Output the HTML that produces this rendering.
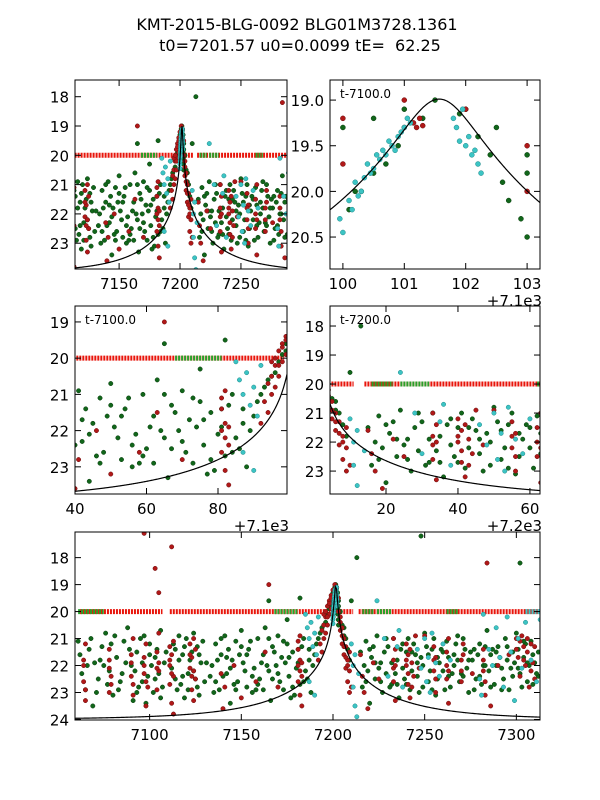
<!DOCTYPE html>
<html><head><meta charset="utf-8"><style>
body{margin:0;background:#fff}
svg{display:block;font-family:"DejaVu Sans","Liberation Sans",sans-serif}
</style></head><body>
<svg id="fig" width="600" height="800" viewBox="0 0 600 800">
<text x="297" y="30" text-anchor="middle" font-size="16">KMT-2015-BLG-0092 BLG01M3728.1361</text>
<text x="300" y="51" text-anchor="middle" font-size="16" xml:space="preserve" style="white-space:pre">t0=7201.57 u0=0.0099 tE=&#160; 62.25</text>
</svg>
<script>
// model parameters
const t0=7201.57, u0=0.0099, tE=62.25, baseMag=24.0;
// green series [t, mag]
const greenPts=[[7062,21.6],[7065,22.9],[7068,21.0],[7070,21.9],[7072,22.5],[7074,21.3],[7076,20.8],[7078,22.2],[7080,23.1],[7082,21.7],[7084,22.6],[7086,21.1],[7088,20.6],[7090,22.0],[7091,23.3],[7093,21.5],[7094,22.8],[7096,21.9],[7097,20.9],[7099,22.4],[7100,21.2],[7102,23.0],[7103,21.7],[7105,22.3],[7106,20.7],[7108,21.9],
[7112,22.1],[7114,21.4],[7116,20.9],[7117,22.7],[7118,21.6],[7119,23.2],[7120,21.0],[7121,22.3],[7122,21.8],[7124,20.8],[7125,22.5],[7126,21.3],[7127,23.1],[7128,21.9],[7130,22.6],
[7134,22.0],[7136,21.2],[7138,22.9],[7139,21.6],[7141,20.9],[7142,22.3],[7144,23.4],[7145,21.8],[7147,21.1],[7148,22.6],[7150,20.7],[7151,21.9],[7153,22.8],[7154,21.4],[7156,23.0],[7157,22.1],[7159,21.0],[7160,22.5],[7162,21.6],[7163,20.6],[7165,22.2],[7166,23.3],[7167,21.3],[7169,22.0],[7170,20.9],[7172,21.7],[7173,22.9],[7175,21.2],[7176,22.4],[7178,21.5],[7179,23.1],[7181,21.9],[7182,22.7],[7184,21.0],[7185,22.2],[7187,21.4],[7188,23.0],
[7190,21.6],[7192,21.0],[7194,20.6],[7196,20.4],[7197,20.1],[7198,19.9],[7199,19.6],[7200,19.3],[7200.5,19.2],[7201,19.1],[7201.5,19.0],[7202,19.1],[7202.5,19.3],[7203,19.6],[7204,20.0],[7205,20.5],[7206,20.9],[7208,21.4],
[7165,19.6],[7182,19.5],[7210,19.6],[7213,18.0],[7248,17.2],[7302,18.2],[7175,20.3],
[7215,21.5],[7216,22.8],[7218,21.1],[7219,22.2],[7220,23.4],[7221,21.7],[7223,22.5],[7224,20.9],[7226,21.9],[7227,23.0],[7229,22.3],[7230,21.3],[7232,22.7],[7233,21.0],[7235,21.8],[7236,23.2],[7238,22.1],[7240,21.5],[7242,22.9],[7244,21.2],[7246,22.4],[7248,21.7],[7250,20.8],[7252,22.6],[7254,21.4],[7256,23.1],[7258,21.9],[7260,22.2],[7262,21.1],[7264,22.8],[7266,21.6],[7268,20.9],[7270,22.3],[7272,21.4],[7274,23.0],[7276,21.8],[7278,22.5],[7280,21.2],[7282,22.0],[7284,20.7],[7286,21.6],[7288,22.7],[7290,21.3],[7292,22.1],[7294,21.0],[7296,22.9],[7298,21.5],[7300,20.8],[7302,22.3],[7304,21.7],[7306,22.6],[7308,21.1],[7310,21.9],[7312,22.4],
[7063,22.3],[7067,21.4],[7071,23.0],[7075,22.0],[7079,21.2],[7083,22.9],[7087,21.9],[7092,22.2],[7095,21.0],[7098,23.4],[7101,22.0],[7104,21.4],[7107,22.8],[7113,21.2],[7115,22.9],[7118,22.4],[7123,21.5],[7126,22.8],[7129,21.1],[7135,23.0],[7137,21.8],[7140,22.4],[7143,21.4],[7146,22.7],[7149,21.6],[7152,22.2],[7155,21.1],[7158,22.9],[7161,21.9],[7164,22.0],[7168,21.5],[7171,22.6],[7174,21.9],[7177,23.2],[7180,22.1],[7183,21.3],[7186,22.5],[7189,22.0],[7217,22.0],[7222,21.3],[7225,22.1],[7228,21.5],[7231,22.8],[7234,22.3],[7237,21.4],[7239,22.5],[7241,21.0],[7243,22.2],[7245,21.6],[7247,23.0],[7249,22.0],[7251,21.3],[7253,22.2],[7255,21.0],[7257,22.5],[7259,21.4],[7261,22.9],[7263,21.7],[7265,22.3],[7267,21.2],[7269,22.6],[7271,21.0],[7273,22.1],[7275,21.5],[7277,22.9],[7279,21.6],[7281,22.7],[7283,21.3],[7285,22.2],[7287,21.4],[7289,22.0],[7291,21.7],[7293,22.5],[7295,21.3],[7297,22.1],[7299,21.9],[7301,21.4],[7303,22.8],[7305,21.2],[7307,22.0],[7309,21.6],[7311,22.3],
[7061,21.1],[7066,22.0],[7069,23.5],[7073,21.8],[7077,22.7],[7081,20.9],[7085,22.3],[7089,21.4],[7093,23.0],[7096,22.6],[7100,21.6],[7103,22.5],[7106,23.2],[7109,21.5],[7114,22.5],[7116,21.8],[7119,21.3],[7121,22.9],[7124,22.2],[7127,21.6],[7131,21.9],[7133,22.4],[7136,22.6],[7139,21.0],[7142,21.7],[7144,22.1],[7147,22.9],[7150,21.3],[7153,21.6],[7156,22.4],[7159,22.7],[7162,22.9],[7165,21.0],[7167,22.5],[7170,22.3],[7173,21.1],[7176,21.7],[7178,22.8],[7181,21.4],[7184,22.6],[7187,21.8],[7191,21.2],[7193,20.8],[7195,20.5],[7199,19.8],[7203,19.8],[7206,20.6],[7207,21.0],[7209,21.8],[7218,22.6],[7220,21.4],[7223,21.9],[7226,22.6],[7229,21.0],[7232,21.9],[7235,22.7],[7238,21.2],[7240,22.7],[7243,21.5],[7246,21.9],[7249,22.8],[7252,21.6],[7254,22.9],[7257,21.7],[7260,21.5],[7263,22.4],[7266,22.0],[7268,21.8],[7271,22.4],[7274,21.8],[7277,21.4],[7280,22.4],[7283,22.0],[7286,22.8],[7289,21.5],[7292,22.9],[7295,21.8],[7298,22.4],[7301,22.1],[7304,21.1],[7306,21.9],[7309,22.7],[7312,21.5],
[7200.1,20.2],[7200.3,20.0],[7200.5,19.8],[7200.7,19.7],[7200.9,19.5],[7201.3,19.2],[7201.9,19.15],[7202.2,19.4],[7202.4,19.6],[7202.6,19.9],[7202.7,20.1],[7202.9,20.3],[7203.0,20.5],[7200.2,20.0]];
// red series [t, mag]
const redPts=[[7064,21.8],[7064,22.6],[7065,21.2],[7065,23.3],[7078,22.1],[7078,21.4],[7078,23.0],[7079,22.7],[7090,21.6],[7090,22.4],[7091,21.0],[7091,23.1],[7097,21.7],[7097,22.3],[7098,21.2],[7098,23.5],[7099,22.8],[7104,21.5],[7104,22.9],[7105,20.8],[7105,22.2],[7105,19.3],[7103,18.4],[7097,17.1],[7111,21.3],[7111,22.0],[7111,22.7],[7112,21.6],[7112,23.4],[7112,17.6],[7113,22.4],[7113,23.8],[7122,21.2],[7122,22.1],[7123,21.7],[7123,22.9],[7124,21.0],[7124,23.3],[7125,22.5],[7139,22.3],[7140,23.6],[7141,22.8],[7146,22.0],[7150,23.2],[7158,22.6],[7163,21.5],[7165,19.0],[7170,22.8],[7181,21.4],[7181,22.0],[7181,22.6],[7182,23.1],[7182,21.8],[7183,22.4],[7183,23.5],[7182,20.9],
[7192,21.8],[7193,21.2],[7194,20.7],[7195,20.5],[7195,21.0],[7196,20.2],[7196,20.8],[7197,19.8],[7197,20.5],[7198,19.6],[7198,20.1],[7199,19.4],[7199,19.9],[7200,19.2],[7200,19.7],[7201,19.0],[7201,19.3],[7202,19.1],[7203,19.5],[7203,20.0],[7204,20.2],[7204,20.7],[7205,20.6],[7205,21.2],[7206,21.0],[7206,21.6],[7207,21.3],[7207,22.1],[7208,21.8],[7208,22.6],[7209,22.2],[7209,23.0],
[7215,21.6],[7216,22.4],[7217,23.0],[7222,21.9],[7225,22.5],[7233,21.0],[7233,21.8],[7233,22.6],[7234,23.3],[7234,21.4],[7240,21.2],[7240,22.0],[7241,22.7],[7241,21.6],[7242,23.2],[7243,21.9],[7244,22.4],[7245,20.9],[7247,22.1],[7255,21.3],[7255,22.2],[7256,23.0],[7256,21.7],[7262,21.5],[7262,22.5],[7263,23.4],[7263,21.0],[7270,21.8],[7270,22.6],[7271,21.2],[7276,22.3],[7282,21.4],[7282,22.2],[7283,23.1],[7284,18.2],[7290,22.0],[7296,21.6],[7300,21.0],[7301,21.7],[7302,22.4],[7303,20.9],[7304,21.3],[7305,22.0],[7306,21.5],[7307,22.8],[7308,21.2],[7309,21.9],[7310,22.5],[7286,23.5],[7250,20.9],[7219,23.6],
[7064,22.0],[7065,22.9],[7078,21.8],[7079,22.4],[7090,21.9],[7091,22.7],[7097,22.0],[7098,22.6],[7104,22.1],[7105,21.9],[7111,21.8],[7112,22.3],[7113,21.1],[7122,21.6],[7123,22.4],[7124,22.2],[7125,21.4],[7181,21.1],[7182,22.2],[7183,21.9],[7194,21.5],[7195,20.1],[7196,20.0],[7197,20.2],[7198,19.7],[7199,19.5],[7204,20.4],[7205,20.9],[7206,21.3],[7207,21.7],[7208,22.0],[7209,21.5],[7210,22.8],[7233,22.1],[7234,22.0],[7240,21.8],[7241,22.3],[7242,21.4],[7243,22.8],[7255,21.8],[7256,22.5],[7262,22.0],[7263,22.2],[7270,22.2],[7271,21.6],[7282,21.8],[7283,22.6],[7300,21.4],[7302,21.1],[7304,21.8],[7306,21.0],[7308,22.2],[7310,21.3],
[7201.15,19.25],[7201.2,19.3],[7201.25,19.2],[7201.3,19.28]];
// cyan series [t, mag]
const cyanPts=[[7185,20.1],[7186,20.6],[7187,21.0],[7188,20.4],[7189,21.3],[7190,20.8],[7191,21.6],[7192,20.2],[7187,22.6],[7190,23.1],
[7200.1,20.1],[7200.2,19.9],[7200.3,20.0],[7200.4,19.7],[7200.5,19.75],[7200.6,19.65],[7200.7,19.6],[7200.8,19.5],[7200.9,19.4],[7201.0,19.3],[7201.05,19.2],[7201.1,19.25],[7201.8,19.2],[7201.85,19.3],[7201.9,19.45],[7202.0,19.5],[7202.05,19.4],[7202.1,19.6],[7202.15,19.55],[7202.2,19.7],[7202.25,19.8],[7201.95,19.1],[7199.95,20.3],[7200.0,20.45],[7200.15,20.2],[7200.25,20.05],[7200.35,19.85],[7200.45,19.8],[7200.55,19.6],[7200.65,19.55],[7200.75,19.45],[7200.85,19.55],[7200.95,19.35],
[7210,21.2],[7211,22.0],[7211,22.8],[7212,23.5],[7212,21.6],[7213,23.9],[7214,22.3],[7224,19.6],[7228,21.0],[7230,22.4],[7235,21.3],[7236,20.7],[7238,22.8],[7246,21.4],[7248,22.1],[7250,21.0],[7251,22.6],[7252,21.7],[7253,23.0],[7254,20.8],[7256,21.9],[7258,22.4],[7260,21.2],[7264,21.8],[7280,22.5],[7281,23.1],[7282,20.1],[7285,21.4],[7287,22.0],[7289,20.6],[7291,21.7],[7293,22.8],[7295,20.2],[7297,21.5],[7299,23.3],[7301,21.0],[7303,22.1],[7305,20.4],[7308,21.8],[7311,22.6],[7313,20.3]];
// upper-limit rows at mag 20: [start, end]
const redLimitSegs=[[7062,7107],[7111,7198.5],[7204,7211],[7214,7314]];
const greenLimitSegs=[[7061,7075],[7168,7181],[7216,7222],[7224,7232],[7262,7268]];
const cyanLimitSegs=[[7305,7314]];
const limitMag=20;

const panels=[
 {name:'panel-overview-top',box:[75,80,212,189],x:[7113.8,7287.8],y:[17.43,23.88],xt:[7150,7200,7250],xl:['7150','7200','7250'],yt:[18,19,20,21,22,23],yl:['18','19','20','21','22','23'],off:0,label:null},
 {name:'panel-peak-zoom',box:[330,80,210,189],x:[7199.79,7203.21],y:[18.78,20.85],xt:[7200,7201,7202,7203],xl:['100','101','102','103'],yt:[19,19.5,20,20.5],yl:['19.0','19.5','20.0','20.5'],off:'+7.1e3',label:'t-7100.0'},
 {name:'panel-rise-zoom',box:[75,306,212,188],x:[7140,7199.3],y:[18.56,23.75],xt:[7140,7160,7180],xl:['40','60','80'],yt:[19,20,21,22,23],yl:['19','20','21','22','23'],off:'+7.1e3',label:'t-7100.0'},
 {name:'panel-decline-zoom',box:[330,306,210,188],x:[7204.44,7262.8],y:[17.31,23.79],xt:[7220,7240,7260],xl:['20','40','60'],yt:[18,19,20,21,22,23],yl:['18','19','20','21','22','23'],off:'+7.2e3',label:'t-7200.0'},
 {name:'panel-overview-bottom',box:[75,532,465,188],x:[7059.3,7312.9],y:[17.05,24.02],xt:[7100,7150,7200,7250,7300],xl:['7100','7150','7200','7250','7300'],yt:[18,19,20,21,22,23,24],yl:['18','19','20','21','22','23','24'],off:0,label:null}
];
const NS='http://www.w3.org/2000/svg';
const fig=document.getElementById('fig');
function mk(tag,attrs,parent){const e=document.createElementNS(NS,tag);for(const k in attrs)e.setAttribute(k,attrs[k]);(parent||fig).appendChild(e);return e;}
function modelMag(t){const u=Math.sqrt(u0*u0+((t-t0)/tE)**2);const A=(u*u+2)/(u*Math.sqrt(u*u+4));return baseMag-2.5*Math.log10(A);}

panels.forEach((p,pi)=>{
 const [L,T,W,H]=p.box;
 const sx=v=>L+(v-p.x[0])/(p.x[1]-p.x[0])*W;
 const sy=v=>T+(v-p.y[0])/(p.y[1]-p.y[0])*H;
 const g=mk('g',{});
 
 
 const bg=mk('rect',{x:L,y:T,width:W,height:H,fill:'#fff'},g);
 
 
 const cp=mk('clipPath',{id:'clip'+pi},g);
 mk('rect',{x:L,y:T,width:W,height:H},cp);
 const d=mk('g',{'clip-path':'url(#clip'+pi+')'},g);
 [[redLimitSegs,'#e8160c','red-limit-row'],[greenLimitSegs,'#2aa02a','green-limit-row'],[cyanLimitSegs,'#40c8c8','cyan-limit-row']].forEach(([segs,c,n])=>{
  segs.forEach(s=>{
   const ln=mk('line',{x1:sx(s[0]),x2:sx(s[1]),y1:sy(limitMag),y2:sy(limitMag),stroke:c,'stroke-width':5,'stroke-dasharray':'2 1'},d);
   
   
  });
 });
 const r=pi===1?2.5:2.2;
 [[greenPts,'#11661a','#0a3d0f','green-point'],[redPts,'#b01818','#6a0d0d','red-point'],[cyanPts,'#3cc4c4','#1e8a8a','cyan-point']].forEach(([pts,f,s,n])=>{
  pts.forEach(q=>{
   const x=sx(q[0]),y=sy(q[1]);
   if(x<L-5||x>L+W+5)return;
   const c=mk('circle',{cx:x,cy:y,r:r,fill:f,stroke:s,'stroke-width':0.5},d);
   
   
  });
 });
 let pts=[];
 for(let i=0;i<=400;i++){const t=p.x[0]+(p.x[1]-p.x[0])*i/400;pts.push(sx(t).toFixed(2)+','+sy(modelMag(t)).toFixed(2));}
 const mc=mk('polyline',{points:pts.join(' '),fill:'none',stroke:'#000','stroke-width':1.2},d);
 
 
 const fr=mk('rect',{x:L,y:T,width:W,height:H,fill:'none',stroke:'#000','stroke-width':1},g);
 
 
 p.xt.forEach((v,i)=>{
  const x=sx(v);
  mk('line',{x1:x,x2:x,y1:T+H,y2:T+H-6,stroke:'#000'},g);
  mk('line',{x1:x,x2:x,y1:T,y2:T+6,stroke:'#000'},g);
  const tx=mk('text',{x:x,y:T+H+20,'text-anchor':'middle','font-size':15},g);
  tx.textContent=p.xl[i];
  
  
 });
 p.yt.forEach((v,i)=>{
  const y=sy(v);
  mk('line',{x1:L,x2:L+6,y1:y,y2:y,stroke:'#000'},g);
  mk('line',{x1:L+W,x2:L+W-6,y1:y,y2:y,stroke:'#000'},g);
  const tx=mk('text',{x:L-6,y:y+6,'text-anchor':'end','font-size':15},g);
  tx.textContent=p.yl[i];
  
  
 });
 if(p.label){
  const lb=mk('text',{x:L+10,y:T+18,'font-size':12},g);
  lb.textContent=p.label;
  
  
 }
 if(p.off){
  const ot=mk('text',{x:L+W+2,y:T+H+37,'text-anchor':'end','font-size':15},g);
  ot.textContent=p.off;
  
  
 }
});
</script>
</body></html>
